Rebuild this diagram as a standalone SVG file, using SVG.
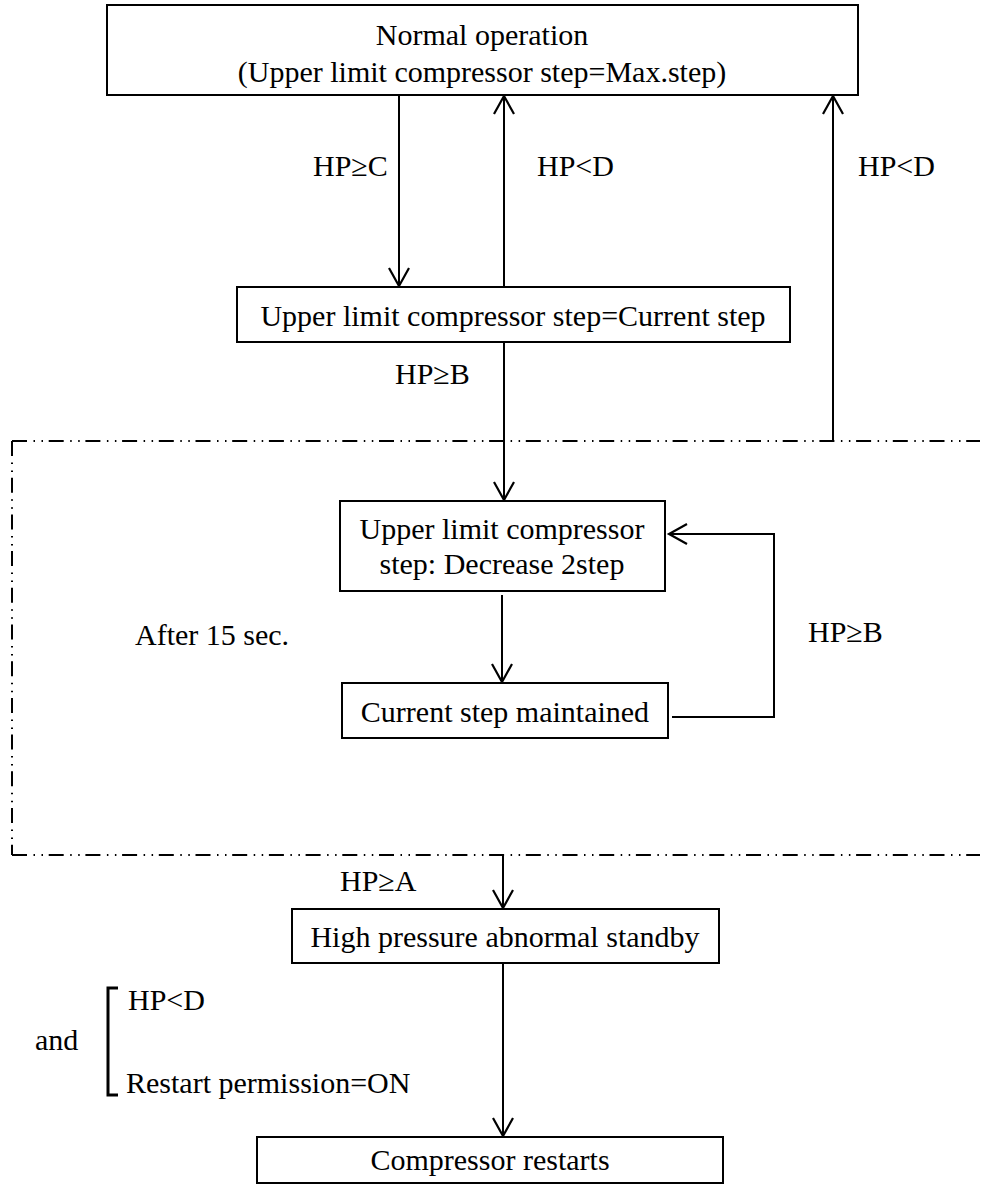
<svg xmlns="http://www.w3.org/2000/svg" width="984" height="1188" viewBox="0 0 984 1188">
<style>
text{font-family:"Liberation Serif","Times New Roman",serif;font-size:30px;fill:#000}
.c{text-anchor:middle}
.box{fill:#fff;stroke:#000;stroke-width:2}
.ln{fill:none;stroke:#000;stroke-width:2}
.br{fill:none;stroke:#000;stroke-width:3}
.dd{fill:none;stroke:#000;stroke-width:2;stroke-dasharray:15 6.5 1.5 6.5 1.5 5.7}
</style>
<defs>
<marker id="ah" markerUnits="userSpaceOnUse" markerWidth="30" markerHeight="30" viewBox="-15 -15 30 30" refX="0" refY="0" orient="auto" overflow="visible">
<path d="M-18,-10 L0,0 L-18,10" fill="none" stroke="#000" stroke-width="2.2"/>
</marker>
</defs>
<rect width="984" height="1188" fill="#fff"/>
<g id="region">
<path class="dd" d="M12,441 H980"/>
<path class="dd" d="M12,441 V855"/>
<path class="dd" d="M12,855 H980"/>
</g>
<g id="connectors">
<path class="ln" d="M399,95 V286" marker-end="url(#ah)"/>
<path class="ln" d="M504,287 V96" marker-end="url(#ah)"/>
<path class="ln" d="M833,441 V96" marker-end="url(#ah)"/>
<path class="ln" d="M504,342 V500" marker-end="url(#ah)"/>
<path class="ln" d="M502,595 V682" marker-end="url(#ah)"/>
<path class="ln" d="M672,717 H774 V534 H669" marker-end="url(#ah)"/>
<path class="ln" d="M503,855 V908" marker-end="url(#ah)"/>
<path class="ln" d="M503,963 V1136" marker-end="url(#ah)"/>
<path class="br" d="M118,988 H108 V1095 H118"/>
</g>
<g id="n-normal">
<rect class="box" x="107" y="5" width="751" height="90"/>
<text class="c" x="482" y="45">Normal operation</text>
<text class="c" x="482" y="82">(Upper limit compressor step=Max.step)</text>
</g>
<g id="n-current">
<rect class="box" x="237" y="287" width="553" height="55"/>
<text class="c" x="513" y="326">Upper limit compressor step=Current step</text>
</g>
<g id="n-decrease">
<rect class="box" x="340" y="501" width="325" height="90"/>
<text class="c" x="502" y="539">Upper limit compressor</text>
<text class="c" x="502" y="574">step: Decrease 2step</text>
</g>
<g id="n-maintained">
<rect class="box" x="342" y="683" width="326" height="55"/>
<text class="c" x="505" y="722">Current step maintained</text>
</g>
<g id="n-standby">
<rect class="box" x="292" y="909" width="427" height="54"/>
<text class="c" x="505" y="947">High pressure abnormal standby</text>
</g>
<g id="n-restart">
<rect class="box" x="257" y="1137" width="466" height="46"/>
<text class="c" x="490" y="1170">Compressor restarts</text>
</g>
<g id="labels">
<text x="313" y="176">HP≥C</text>
<text x="537" y="176">HP&lt;D</text>
<text x="858" y="176">HP&lt;D</text>
<text x="395" y="384">HP≥B</text>
<text x="808" y="642">HP≥B</text>
<text x="135" y="645">After 15 sec.</text>
<text x="340" y="891">HP≥A</text>
<text x="128" y="1010">HP&lt;D</text>
<text x="126" y="1093">Restart permission=ON</text>
<text x="35" y="1050">and</text>
</g>
</svg>
